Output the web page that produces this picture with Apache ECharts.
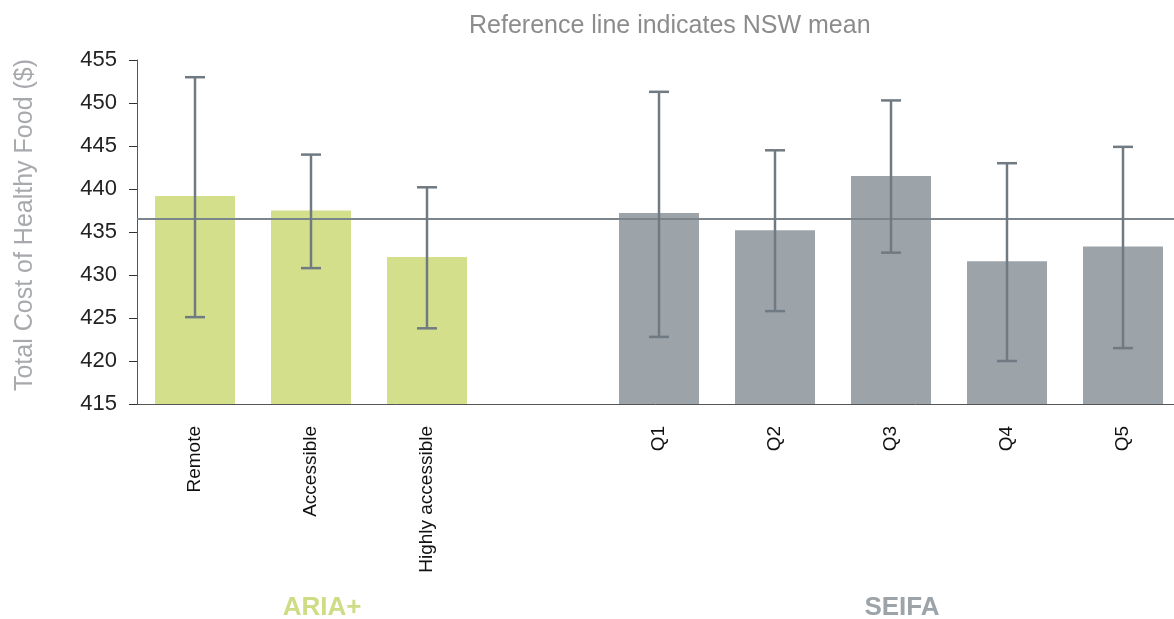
<!DOCTYPE html>
<html>
<head>
<meta charset="utf-8">
<script src="https://cdn.jsdelivr.net/npm/echarts@6/dist/echarts.min.js"></script>
<style>html,body{margin:0;padding:0;background:#fff}#c{width:1174px;height:619px}</style>
</head>
<body>
<div id="c"></div>
<script>
const categories = ['Remote', 'Accessible', 'Highly accessible', '', 'Q1', 'Q2', 'Q3', 'Q4', 'Q5'];
const groups = ['ARIA+', 'ARIA+', 'ARIA+', '', 'SEIFA', 'SEIFA', 'SEIFA', 'SEIFA', 'SEIFA'];
const means = [439.2, 437.5, 432.1, null, 437.2, 435.2, 441.5, 431.6, 433.3];
const errLow = [425.1, 430.8, 423.8, null, 422.8, 425.8, 432.6, 420.0, 421.5];
const errHigh = [453.0, 444.0, 440.2, null, 451.3, 444.5, 450.3, 443.0, 444.9];
const nswMean = 436.5;
const yTicks = [415, 420, 425, 430, 435, 440, 445, 450, 455];

const groupColor = { 'ARIA+': '#d4df8c', 'SEIFA': '#9ca3a9' };
const labelColor = { 'ARIA+': '#cfdc86', 'SEIFA': '#9ca3a9' };

const chart = echarts.init(document.getElementById('c'), null, { renderer: 'canvas' });

const barData = means.map((v, i) => ({
  value: v,
  itemStyle: { color: groupColor[groups[i]] || '#ccc' }
}));
const errData = means.map((v, i) => [i, errLow[i], errHigh[i]]).filter(d => d[1] != null);

const option = {
  animation: false,
  title: {
    text: 'Reference line indicates NSW mean',
    left: 464, top: 9,
    textStyle: { fontFamily: 'Liberation Sans', fontSize: 25, fontWeight: 'normal', color: '#8c8c8c' }
  },
  grid: { left: 137, right: -7, top: 60, bottom: 215, containLabel: false, outerBoundsMode: 'none' },
  xAxis: {
    type: 'category',
    data: categories,
    axisLine: { lineStyle: { color: '#555', width: 1 } },
    axisTick: { interval: 0, length: 7, lineStyle: { color: '#333' } },
    axisLabel: {
      interval: 0, rotate: 90, margin: 22,
      fontFamily: 'Liberation Sans', fontSize: 19, color: '#111'
    }
  },
  yAxis: {
    type: 'value',
    min: yTicks[0], max: yTicks[yTicks.length - 1], interval: 5,
    name: 'Total Cost of Healthy Food ($)',
    nameLocation: 'middle', nameGap: 99,
    nameTextStyle: { fontFamily: 'Liberation Sans', fontSize: 25, color: '#a7a9ac', padding: [0, 0, 0, 14] },
    axisLine: { show: true, lineStyle: { color: '#555', width: 1 } },
    axisTick: { show: true, length: 8, lineStyle: { color: '#333' } },
    axisLabel: { margin: 20, fontFamily: 'Liberation Sans', fontSize: 22, color: '#222' },
    splitLine: { show: false }
  },
  series: [
    {
      type: 'bar',
      data: barData,
      barWidth: 80,
      markLine: {
        silent: true, symbol: 'none',
        label: { show: false },
        lineStyle: { color: '#7c858b', width: 2, type: 'solid' },
        data: [{ yAxis: nswMean }]
      },
      z: 2
    },
    {
      type: 'custom',
      data: errData,
      z: 5,
      renderItem: function (params, api) {
        const x = api.value(0);
        const lo = api.coord([x, api.value(1)]);
        const hi = api.coord([x, api.value(2)]);
        const hw = 10;
        const style = { stroke: '#707a82', lineWidth: 2.5 };
        return {
          type: 'group',
          children: [
            { type: 'line', shape: { x1: lo[0], y1: lo[1], x2: hi[0], y2: hi[1] }, style: style },
            { type: 'line', shape: { x1: lo[0] - hw, y1: lo[1], x2: lo[0] + hw, y2: lo[1] }, style: style },
            { type: 'line', shape: { x1: hi[0] - hw, y1: hi[1], x2: hi[0] + hw, y2: hi[1] }, style: style }
          ]
        };
      }
    }
  ]
};
chart.setOption(option);

// group labels centred under their categories
function groupCenter(name) {
  const idx = groups.map((g, i) => g === name ? i : -1).filter(i => i >= 0);
  const a = chart.convertToPixel({ xAxisIndex: 0 }, categories[idx[0]]);
  const b = chart.convertToPixel({ xAxisIndex: 0 }, categories[idx[idx.length - 1]]);
  return (a + b) / 2;
}
chart.setOption({
  graphic: ['ARIA+', 'SEIFA'].map(g => ({
    type: 'text',
    x: groupCenter(g) + 11,
    y: 595,
    style: {
      text: g, fill: labelColor[g],
      font: 'bold 26px "Liberation Sans Narrow", "Liberation Sans", sans-serif',
      textAlign: 'center'
    }
  }))
});
</script>
</body>
</html>
